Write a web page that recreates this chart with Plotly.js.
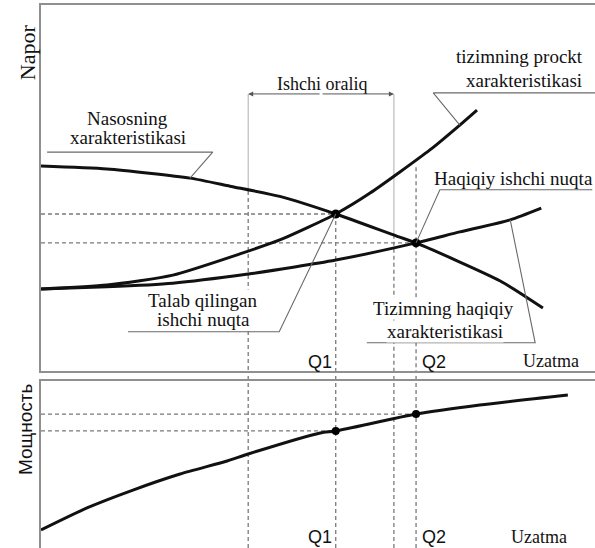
<!DOCTYPE html>
<html>
<head>
<meta charset="utf-8">
<script src="https://cdn.plot.ly/plotly-3.0.1.min.js"></script>
<style>html,body{margin:0;padding:0;background:#fff;}#chart{width:595px;height:548px;}</style>
</head>
<body>
<div id="chart"></div>
<script>
// ---- Data (arbitrary units 0..100) ----
const pumpQ  = [0, 11.9, 26.9, 34.1, 43.1, 53.2, 64.3, 67.7, 82.9, 90.6];
const pumpH  = [56.0, 55.2, 52.7, 50.5, 47.7, 42.9, 36.8, 35.0, 24.6, 17.2];
const designQ = [0, 11.9, 23.8, 35.9, 43.1, 53.2, 59.4, 70.2, 75.6, 78.7];
const designH = [22.4, 23.5, 26.2, 32.0, 35.8, 42.9, 48.6, 60.4, 67.2, 71.3];
const realQ  = [0, 11.9, 23.8, 37.4, 45.8, 53.2, 67.7, 75.6, 84.7, 90.3];
const realH  = [22.4, 23.0, 24.0, 26.5, 28.4, 30.3, 35.0, 38.0, 41.3, 44.5];
const powerQ = [0, 8.3, 16.6, 25.1, 33.6, 37.4, 50.4, 53.2, 67.7, 79.2, 95.1];
const powerN = [10.8, 24.0, 34.7, 44.3, 52.1, 56.3, 68.9, 70.1, 80.2, 85.6, 91.6];

const workQ = [53.2, 67.7];     // Q1, Q2
const workH = [42.9, 35.0];     // heads at Q1, Q2
const workN = [70.1, 80.2];     // power at Q1, Q2
const workLabels = ['Q1', 'Q2'];
const rangeQ = [37.4, 63.7];    // "Ishchi oraliq" limits
const rangePumpH = [49.2, 37.2];// pump head at range limits
const rangeTopH = 75.7;         // level of the range arrow
const q2LineTopH = 55.7;        // top of the Q2 dashed line

// leader lines
const leaderNasos = {x: [1.1, 31.0, 26.9], y: [59.8, 59.8, 52.7]};
const leaderProekt = {x: [100, 70.8, 75.6], y: [76.0, 76.0, 67.2]};
const leaderHaqNuqta = {x: [99.5, 72.0, 67.7], y: [49.5, 49.5, 35.0]};
const leaderTalab = {x: [15.7, 43.0, 53.2], y: [10.7, 10.7, 42.9]};
const leaderTizHaq = {x: [58.8, 89.2, 84.7], y: [7.7, 7.7, 41.3]};

// ---- Styles ----
const SERIF = 'Liberation Serif';
const SANS = 'Liberation Sans';
const curveLine = {color: '#111', width: 3, shape: 'spline', smoothing: 0.6};
const leaderLine = {color: '#6a6a6a', width: 1.1};
const dashLine = {color: '#7a7a7a', width: 1.3, dash: '4px,3px'};
const solidThin = {color: '#b5b5b5', width: 1.1};
const TOP_DOMAIN = [0.326, 1];
const BOT_DOMAIN = [0, 0.3076];

const traces = [
  {x: pumpQ, y: pumpH, mode: 'lines', line: curveLine, xaxis: 'x', yaxis: 'y', hoverinfo: 'skip'},
  {x: designQ, y: designH, mode: 'lines', line: curveLine, xaxis: 'x', yaxis: 'y', hoverinfo: 'skip'},
  {x: realQ, y: realH, mode: 'lines', line: curveLine, xaxis: 'x', yaxis: 'y', hoverinfo: 'skip'},
  {x: powerQ, y: powerN, mode: 'lines', line: curveLine, xaxis: 'x2', yaxis: 'y2', hoverinfo: 'skip'},
  {x: workQ, y: workH, mode: 'markers', marker: {color: '#000', size: 9}, xaxis: 'x', yaxis: 'y', hoverinfo: 'skip'},
  {x: workQ, y: workN, mode: 'markers', marker: {color: '#000', size: 8}, xaxis: 'x2', yaxis: 'y2', hoverinfo: 'skip'}
];
[leaderNasos, leaderProekt, leaderHaqNuqta, leaderTalab, leaderTizHaq].forEach(l => {
  traces.push({x: l.x, y: l.y, mode: 'lines', line: leaderLine, xaxis: 'x', yaxis: 'y', hoverinfo: 'skip'});
});

const shapes = [];
rangeQ.forEach((q, i) => {
  shapes.push({type: 'line', layer: 'below', xref: 'x', yref: 'y', x0: q, x1: q, y0: rangeTopH, y1: rangePumpH[i], line: solidThin});
  shapes.push({type: 'line', layer: 'below', xref: 'x', yref: 'y', x0: q, x1: q, y0: rangePumpH[i], y1: 0, line: dashLine});
  shapes.push({type: 'line', layer: 'below', xref: 'x', yref: 'paper', x0: q, x1: q, y0: 0, y1: TOP_DOMAIN[0], line: dashLine});
});
const qTops = [workH[0], q2LineTopH];
workQ.forEach((q, i) => {
  shapes.push({type: 'line', layer: 'below', xref: 'x', yref: 'y', x0: q, x1: q, y0: qTops[i], y1: 0, line: dashLine});
  shapes.push({type: 'line', layer: 'below', xref: 'x', yref: 'paper', x0: q, x1: q, y0: 0, y1: TOP_DOMAIN[0], line: dashLine});
  shapes.push({type: 'line', layer: 'below', xref: 'x', yref: 'y', x0: 0, x1: q, y0: workH[i], y1: workH[i], line: dashLine});
  shapes.push({type: 'line', layer: 'below', xref: 'x2', yref: 'y2', x0: 0, x1: q, y0: workN[i], y1: workN[i], line: dashLine});
});

function txt(text, x, y, size, opts) {
  return Object.assign({text: text, x: x, y: y, xref: 'x', yref: 'y', showarrow: false,
    font: {family: SERIF, size: size, color: '#111'}, xanchor: 'center', yanchor: 'middle'}, opts || {});
}
const sansFont = {family: SANS, size: 18, color: '#111'};
const whiteBox = {bgcolor: '#fff', borderpad: 0};
const midRange = (rangeQ[0] + rangeQ[1]) / 2;
const annotations = [
  txt('Nasosning', 15.7, 69.1, 19),
  txt('xarakteristikasi', 15.7, 63.9, 19),
  txt('tizimning prockt', 86.4, 85.8, 19),
  txt('xarakteristikasi', 87.2, 79.5, 19),
  txt('Ishchi oraliq', 50.7, 78.4, 18),
  txt('Haqiqiy ishchi nuqta', 85.2, 52.7, 19),
  // second lines first so the first lines' descenders stay on top
  txt('ishchi nuqta', 29.4, 14.2, 19, whiteBox),
  txt('Talab qilingan', 29.2, 19.3, 19, whiteBox),
  txt('xarakteristikasi', 72.9, 10.7, 19, whiteBox),
  txt('Tizimning haqiqiy', 72.6, 17.2, 19, whiteBox),
  txt(workLabels[0], 50.4, 2.5, 18, {font: sansFont}),
  txt(workLabels[1], 70.9, 2.5, 18, {font: sansFont}),
  txt('Uzatma', 92.1, 2.7, 18),
  txt(workLabels[0], 50.4, 6.8, 18, {xref: 'x2', yref: 'y2', font: sansFont}),
  txt(workLabels[1], 70.9, 6.8, 18, {xref: 'x2', yref: 'y2', font: sansFont}),
  txt('Uzatma', 89.9, 6.8, 18, {xref: 'x2', yref: 'y2'}),
  {text: '', x: rangeQ[0], y: rangeTopH, ax: midRange, ay: rangeTopH, xref: 'x', yref: 'y', axref: 'x', ayref: 'y',
    showarrow: true, arrowhead: 2, arrowsize: 1, arrowwidth: 1, arrowcolor: '#555'},
  {text: '', x: rangeQ[1], y: rangeTopH, ax: midRange, ay: rangeTopH, xref: 'x', yref: 'y', axref: 'x', ayref: 'y',
    showarrow: true, arrowhead: 2, arrowsize: 1, arrowwidth: 1, arrowcolor: '#555'},
  {text: 'Napor', x: -0.0253, y: 0.913, xref: 'paper', yref: 'paper', showarrow: false, textangle: -90,
    font: {family: SERIF, size: 22, color: '#111'}, xanchor: 'center', yanchor: 'middle'},
  {text: 'Мощность', x: -0.0289, y: 0.219, xref: 'paper', yref: 'paper', showarrow: false, textangle: -90,
    font: {family: SANS, size: 19, color: '#111'}, xanchor: 'center', yanchor: 'middle'}
];

const axisCommon = {showgrid: false, zeroline: false, showticklabels: false, ticks: '', fixedrange: true,
  showline: true, linecolor: '#8f8f8f', linewidth: 2};
const layout = {
  width: 595, height: 548,
  margin: {l: 41, r: 0, t: 5, b: 0},
  paper_bgcolor: '#fff', plot_bgcolor: '#fff',
  showlegend: false,
  font: {family: SERIF},
  xaxis: Object.assign({}, axisCommon, {range: [0, 100], anchor: 'y', mirror: true}),
  yaxis: Object.assign({}, axisCommon, {range: [0, 100], domain: TOP_DOMAIN, anchor: 'x'}),
  xaxis2: Object.assign({}, axisCommon, {range: [0, 100], anchor: 'y2', side: 'top'}),
  yaxis2: Object.assign({}, axisCommon, {range: [0, 100], domain: BOT_DOMAIN, anchor: 'x2'}),
  shapes: shapes,
  annotations: annotations
};
Plotly.newPlot('chart', traces, layout, {staticPlot: true, displayModeBar: false});
</script>
</body>
</html>
